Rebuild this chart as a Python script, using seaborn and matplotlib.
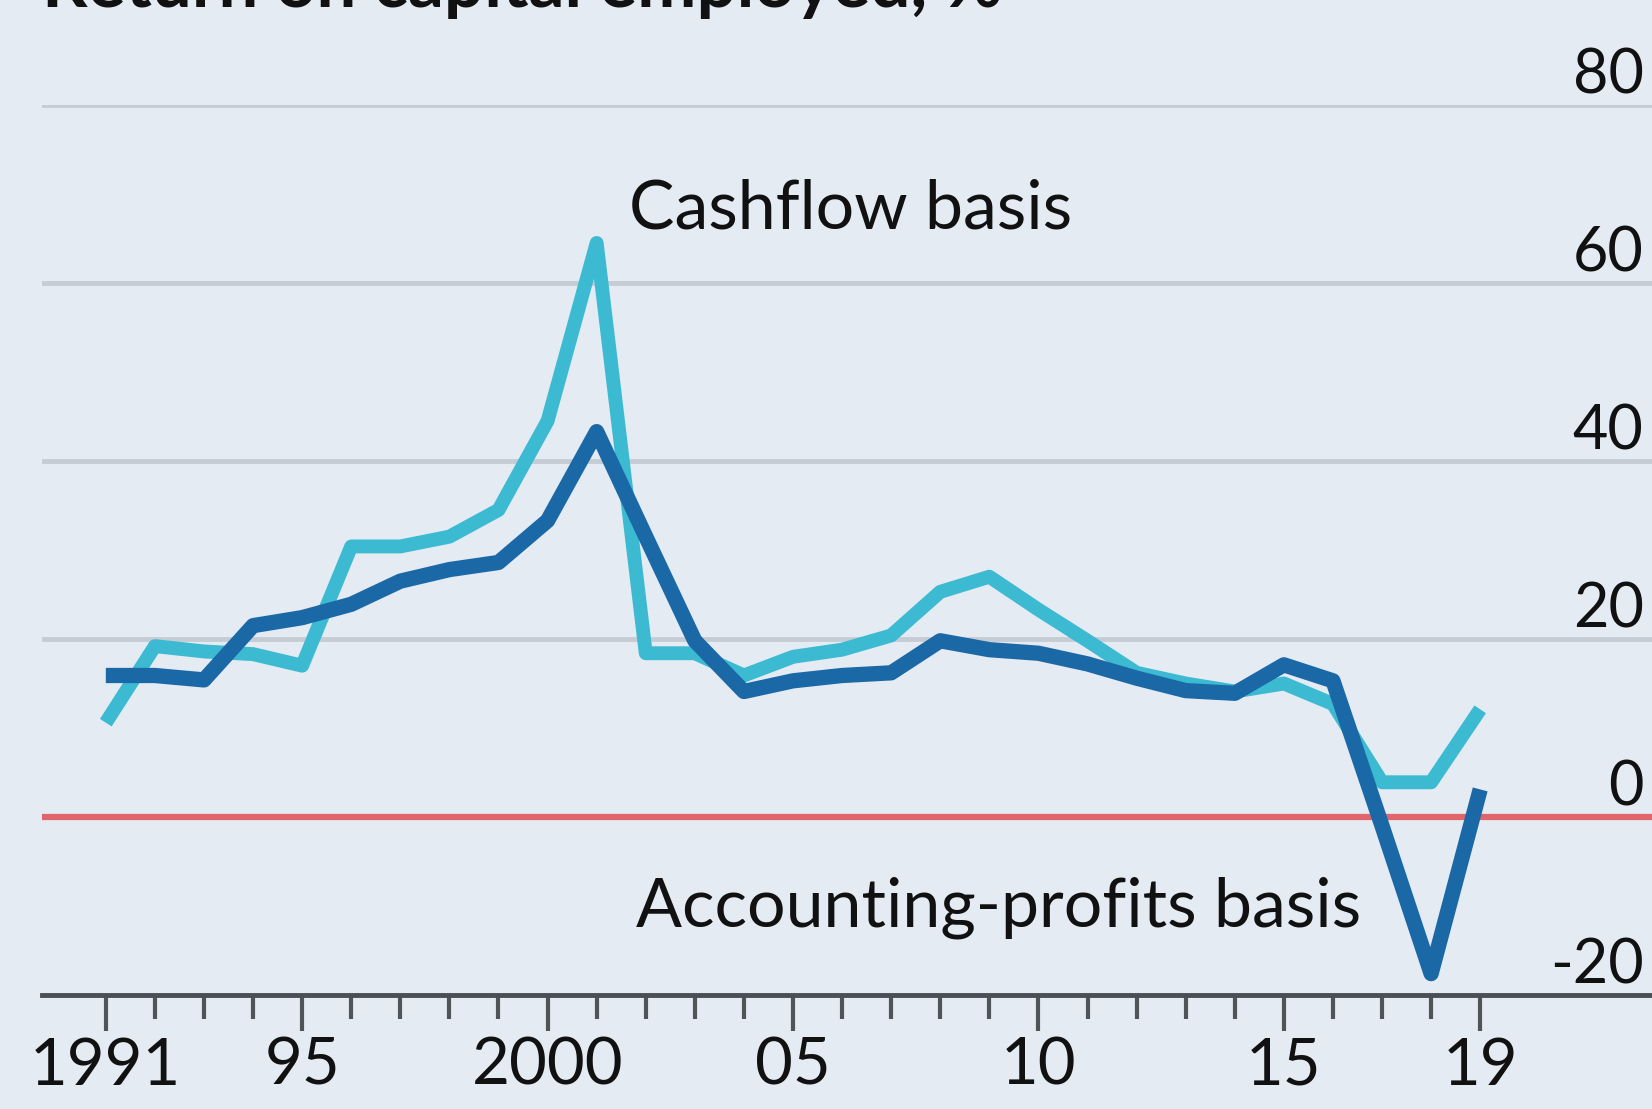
import matplotlib
matplotlib.use("Agg")
import pandas as pd
import numpy as np
import matplotlib.pyplot as plt
import matplotlib.ticker as mticker
import seaborn as sns

# ----------------- Dados -----------------
anos = list(range(1991, 2020))
cashflow = [10.6, 19.2, 18.6, 18.3, 17.0, 30.4, 30.4, 31.5, 34.5, 44.5,
            64.5, 18.4, 18.4, 15.9, 18.0, 18.8, 20.4, 25.3, 27.0, 23.3,
            19.8, 16.2, 15.0, 14.1, 15.0, 12.7, 3.9, 3.9, 12.1]
contabil = [15.9, 15.9, 15.4, 21.5, 22.4, 23.9, 26.5, 27.8, 28.6, 33.3,
            43.3, 31.5, 19.8, 14.1, 15.3, 15.9, 16.2, 19.8, 18.8, 18.4,
            17.2, 15.6, 14.2, 13.9, 17.1, 15.3, -1.0, -17.6, 3.1]
series = ["Cashflow basis", "Accounting-profits basis"]
yticks = [-20, 0, 20, 40, 60, 80]
xticks = [1991, 1995, 2000, 2005, 2010, 2015, 2019]
xticklabels = ["1991", "95", "2000", "05", "10", "15", "19"]
titulo = "Return on capital employed, %"

# ----------------- Estilo -----------------
BG = "#e4ebf3"
CORES = {"Cashflow basis": "#3bbad2", "Accounting-profits basis": "#1b68a6"}
ESPESSURA = {"Cashflow basis": 10, "Accounting-profits basis": 11}

sns.set_theme(style="white", rc={"figure.facecolor": BG, "axes.facecolor": BG})
plt.rcParams["font.family"] = ["Lato", "DejaVu Sans"]

df = pd.DataFrame({
    "ano": anos * 2,
    "valor": cashflow + contabil,
    "serie": [series[0]] * len(anos) + [series[1]] * len(anos),
})

# ----------------- Gráfico -----------------
W, H = 1652, 1109
fig = plt.figure(figsize=(W / 100, H / 100), dpi=100)
ax = fig.add_axes([42 / W, 1 - 995 / H, 1 - 42 / W, (995 - 105) / H])

sns.lineplot(data=df, x="ano", y="valor", hue="serie", hue_order=series,
             palette=CORES, linewidth=10, ax=ax, legend=False)
for ln, nome in zip(ax.get_lines(), series):
    ln.set_linewidth(ESPESSURA[nome])
    ln.set_solid_capstyle("butt")
    ln.set_solid_joinstyle("round")
    ln.set_zorder(4)

ax.set_xlim(1989.7, 2022.5)
ax.set_ylim(-20, 80)

# eixo y à direita, rótulos acima das linhas de grade
ax.set_yticks(yticks, [str(v) for v in yticks])
ax.tick_params(axis="y", left=False, right=False, length=0, labelleft=False,
               labelright=True, pad=-6, labelsize=44, colors="#111111")
for lbl in ax.get_yticklabels():
    lbl.set_horizontalalignment("right")
    lbl.set_verticalalignment("bottom")
ax.grid(axis="y", color="#c5ccd3", linewidth=3.5)
ax.grid(axis="x", visible=False)
ax.axhline(0, color="#e0666c", linewidth=4.5, zorder=3)

# eixo x
ax.set_xticks(xticks, xticklabels)
ax.xaxis.set_minor_locator(mticker.FixedLocator(anos))
ax.tick_params(axis="x", which="major", bottom=True, length=26, width=3,
               color="#4f5459", labelsize=47, pad=4, labelcolor="#111111")
ax.tick_params(axis="x", which="minor", bottom=True, length=17, width=3,
               color="#4f5459")

for s in ["top", "left", "right"]:
    ax.spines[s].set_visible(False)
ax.spines["bottom"].set_color("#4a4f55")
ax.spines["bottom"].set_linewidth(3.5)
ax.spines["bottom"].set_zorder(5)

ax.set_xlabel("")
ax.set_ylabel("")

# rótulos das séries
ax.text(2001.66, 68.3, series[0], fontsize=49, va="center", ha="left", color="#111111")
ax.text(2001.8, -10.2, series[1], fontsize=49, va="center", ha="left", color="#111111")

# título (cortado no topo, como na imagem)
fig.text(42 / W, 1 - 7 / H, titulo, fontsize=51, fontweight="bold",
         va="baseline", ha="left", color="#111111")

fig.savefig("out.png", dpi=100, facecolor=BG)
